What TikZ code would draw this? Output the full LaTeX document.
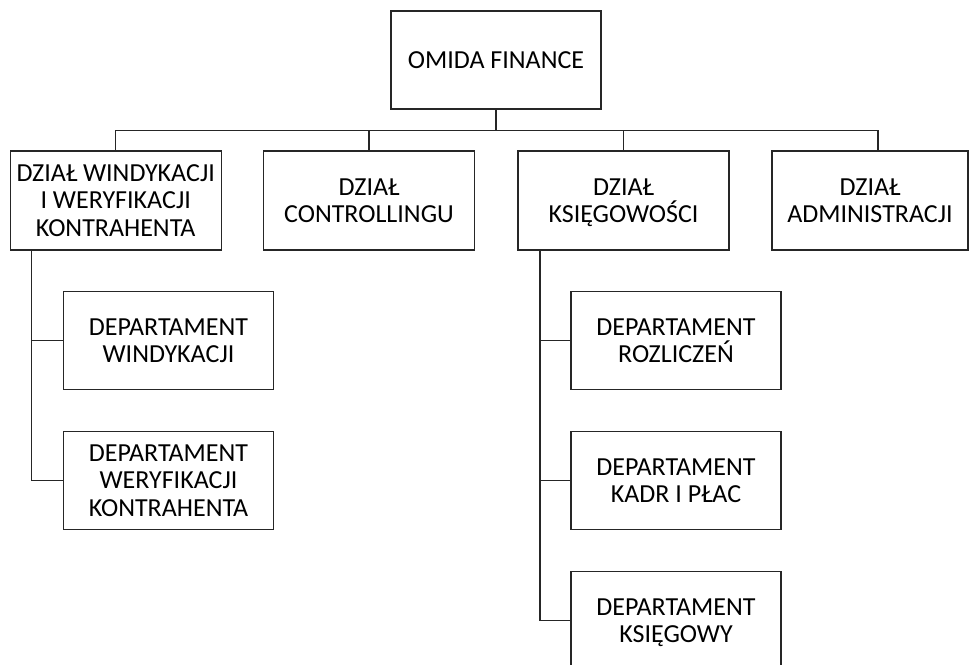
\documentclass[tikz,border=0pt]{standalone}
\usepackage{fontspec}
\setmainfont{Carlito}
\newcommand\lin[1]{\rule[-5.5pt]{0pt}{27.5pt}\smash{#1}}
\begin{document}
\begin{tikzpicture}[x=1pt,y=-1pt,
  box/.style={draw=black!85,line width=1.4pt,fill=white,minimum width=210pt,minimum height=98pt,
    align=center,inner sep=0pt,font=\fontsize{26}{27.5}\selectfont},
  conn/.style={draw=black!85,line width=1.4pt}]
\useasboundingbox (0,0) rectangle (969,664);
\node[box] (top) at (496,60) {\lin{OMIDA FINANCE}};
\node[box,minimum width=211pt,minimum height=99pt] (b1) at (115.7,200.5) {\lin{DZIAŁ WINDYKACJI}\\\lin{I WERYFIKACJI}\\\lin{KONTRAHENTA}};
\node[box,minimum width=211pt,minimum height=99pt] (b2) at (369,200.5) {\lin{DZIAŁ}\\\lin{CONTROLLINGU}};
\node[box,minimum width=211pt,minimum height=99pt] (b3) at (623.5,200.5) {\lin{DZIAŁ}\\\lin{KSIĘGOWOŚCI}};
\node[box,minimum width=196pt,minimum height=99pt] (b4) at (870,200.5) {\lin{DZIAŁ}\\\lin{ADMINISTRACJI}};
\node[box] (c1) at (168.5,340.5) {\lin{DEPARTAMENT}\\\lin{WINDYKACJI}};
\node[box] (c2) at (168.5,480.5) {\lin{DEPARTAMENT}\\\lin{WERYFIKACJI}\\\lin{KONTRAHENTA}};
\node[box] (d1) at (676,340.5) {\lin{DEPARTAMENT}\\\lin{ROZLICZEŃ}};
\node[box] (d2) at (676,480.5) {\lin{DEPARTAMENT}\\\lin{KADR I PŁAC}};
\node[box] (d3) at (676,620.7) {\lin{DEPARTAMENT}\\\lin{KSIĘGOWY}};
\coordinate (bus) at (496,130.5);
\coordinate (s4) at (878,130.5);
\draw[conn] (top.south) -- (bus);
\draw[conn] (b1.north) -- (b1.north |- bus) -- (s4) -- (s4 |- b4.north);
\draw[conn] (b2.north) -- (b2.north |- bus);
\draw[conn] (b3.north) -- (b3.north |- bus);
\coordinate (lv) at (31.7,250);
\coordinate (rv) at (540,250);
\draw[conn] (lv |- b1.south) -- (lv |- c2.west) -- (c2.west);
\draw[conn] (lv |- c1.west) -- (c1.west);
\draw[conn] (rv |- b3.south) -- (rv |- d3.west) -- (d3.west);
\draw[conn] (rv |- d1.west) -- (d1.west);
\draw[conn] (rv |- d2.west) -- (d2.west);
\end{tikzpicture}
\end{document}
